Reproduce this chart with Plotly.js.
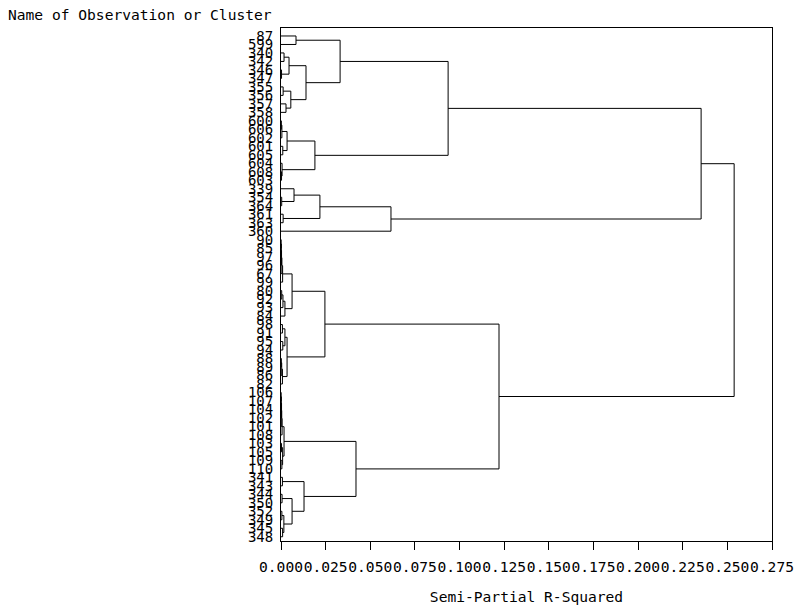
<!DOCTYPE html>
<html>
<head>
<meta charset="utf-8">
<script src="https://cdn.plot.ly/plotly-3.0.1.min.js"></script>
<style>html,body{margin:0;padding:0;background:#fff;}#chart{width:795px;height:607px;}</style>
</head>
<body>
<div id="chart"></div>
<script>
// Leaf labels, top to bottom (order of the dendrogram)
const leafLabels = [
  "87","599","340","342","346","347","355","356","357","358",
  "600","606","602","601","605","604","608","603",
  "339","354","364","361","363","360",
  "90","85","97","96","67","99","80","92","93","84",
  "98","91","95","94","88","89","86","82",
  "106","107","104","102","101","108","103","105","109","110",
  "341","343","344","350","352","349","345","348"
];
// Merges (linkage style): child ids < 60 are leaves, id 60+k is merge k
const mergeA = [0,2,4,61,6,8,64,63,60, 10,69,13,70,16,15,72,68, 19,18,21,78,80,76,
  24,83,84,85,86,30,88,89,87, 34,36,92,38,95,96,94,91,
  42,100,101,102,103,48,50,105,104, 52,54,56,58,111,110,109,108,99,82];
const mergeB = [1,3,5,62,7,9,65,66,67, 11,12,14,71,17,73,74,75, 20,77,22,79,23,81,
  25,26,27,28,29,31,32,33,90, 35,37,93,39,40,41,97,98,
  43,44,45,46,47,49,51,106,107, 53,55,57,59,112,113,114,115,116,117];
const mergeH = [0.0084,0.0017,0.0003,0.0045,0.0012,0.0028,0.0055,0.0140,0.0331,
  0.0002,0.0005,0.0010,0.0034,0.0003,0.0006,0.0190,0.0936,
  0.0004,0.0073,0.0012,0.0218,0.0616,0.2353,
  0.0001,0.0002,0.0003,0.0005,0.0009,0.0004,0.0011,0.0022,0.0062,
  0.0008,0.0010,0.0022,0.0002,0.0004,0.0008,0.0034,0.0246,
  0.0001,0.0002,0.0003,0.0004,0.0006,0.0003,0.0005,0.0009,0.0017,
  0.0008,0.0006,0.0005,0.0009,0.0016,0.0062,0.0129,0.0420,0.1221,0.2538];
const xTickVals = [0,0.025,0.05,0.075,0.1,0.125,0.15,0.175,0.2,0.225,0.25,0.275];
const xTickText = ["0.000","0.025","0.050","0.075","0.100","0.125","0.150","0.175","0.200","0.225","0.250","0.275"];

const N = leafLabels.length;
const pos = [], hgt = [];
for (let i = 0; i < N; i++) { pos.push(i); hgt.push(0); }
const xs = [], ys = [];
for (let k = 0; k < mergeH.length; k++) {
  const a = mergeA[k], b = mergeB[k], h = mergeH[k];
  xs.push(hgt[a], h, h, hgt[b], null);
  ys.push(pos[a], pos[a], pos[b], pos[b], null);
  pos.push((pos[a] + pos[b]) / 2);
  hgt.push(h);
}

const font = {family: "DejaVu Sans Mono", size: 14, color: "#000"};
const font15 = {family: "DejaVu Sans Mono", size: 14.6, color: "#000"};
const trace = {x: xs, y: ys, type: "scatter", mode: "lines",
  line: {color: "#000", width: 1}, hoverinfo: "skip", showlegend: false};

const layout = {
  width: 795, height: 607,
  margin: {l: 281, r: 23, t: 28, b: 66, pad: 0},
  paper_bgcolor: "#fff", plot_bgcolor: "#fff",
  font: font,
  title: {text: "Name of Observation or Cluster", font: font15,
    xref: "container", yref: "container", x: 8/795, xanchor: "left", y: 1 - 15/607, yanchor: "middle"},
  xaxis: {range: [0, 0.275], tickvals: xTickVals, ticktext: xTickText, tickangle: 0,
    ticks: "outside", ticklen: 8, tickcolor: "#000", tickwidth: 1,
    showline: true, mirror: true, linecolor: "#000", linewidth: 1,
    showgrid: false, zeroline: false, tickfont: font15, ticklabelstandoff: 4,
    title: {text: "Semi-Partial R-Squared", font: font15, standoff: 18}},
  yaxis: {range: [N - 0.5, -0.94], tickvals: leafLabels.map((_, i) => i), ticktext: leafLabels,
    ticks: "", showline: true, mirror: true, linecolor: "#000", linewidth: 1,
    showgrid: false, zeroline: false, tickfont: font, ticklabelstandoff: 4}
};
Plotly.newPlot("chart", [trace], layout, {staticPlot: true, displayModeBar: false});
</script>
</body>
</html>
